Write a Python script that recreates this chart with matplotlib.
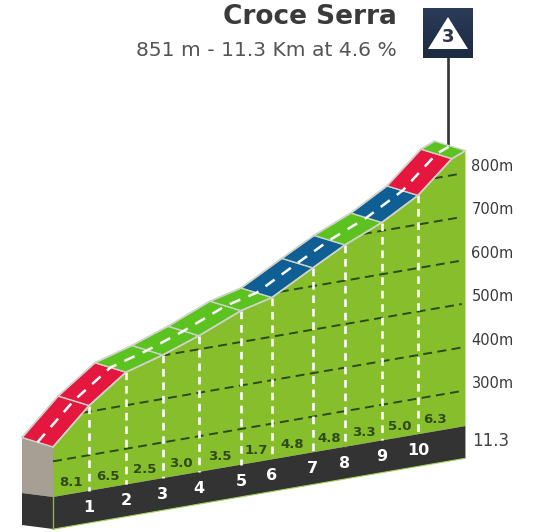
import numpy as np
import matplotlib
matplotlib.use('Agg')
import matplotlib.pyplot as plt
from matplotlib.colors import LinearSegmentedColormap
from matplotlib.transforms import Affine2D

# profile points
km = [0, 0.99, 2.0, 3.01, 4.0, 5.15, 6.0, 7.12, 8.0, 9.01, 10.0, 10.93, 11.3]
elev = [333, 414, 476, 501, 531, 572, 590, 642, 682, 719, 767, 838, 851]
grades = ['8.1', '6.5', '2.5', '3.0', '3.5', '1.7', '4.8', '4.8', '3.3', '5.0', '6.3']
km_labels = ['1', '2', '3', '4', '5', '6', '7', '8', '9', '10']
grid_levels = [300, 400, 500, 600, 700, 800]
road_colors = ['#e5173f', '#e5173f', '#5cc21f', '#5cc21f', '#5cc21f', '#5cc21f', '#0f5f94',
               '#0f5f94', '#5cc21f', '#0f5f94', '#e5173f', '#5cc21f']

base_elev = 218
band_elev = 144
end_km = km[-1]
edge = '#cfd3ca'

fig = plt.figure(figsize=(5.53, 5.32), dpi=100)
ax = fig.add_axes([0, 0, 1, 1])
ax.axis('off')

# km/elevation to pixels, the base line rises to the right
front = Affine2D.from_values(36.5, -6.278, 0, -0.435, 53, 591.83)
back = front + Affine2D().translate(-31, -9.5)
mid = front + Affine2D().translate(-15.5, -4.75)
to_front = front + ax.transData
to_back = back + ax.transData
to_mid = mid + ax.transData

km_arr = np.array(km)
elev_arr = np.array(elev)

# left side of the block
ax.fill([53, 22, 22, 53], [447, 438, 493, 497], color='#a89f94', lw=0, zorder=1)
ax.fill([53, 22, 22, 53], [497, 493, 525, 529], color='#333333', lw=0, zorder=1)
ax.plot([53, 53], [497, 529], color='#86bf2b', lw=1, zorder=3)

# green body and dark band
ax.fill(list(km) + [end_km, 0], list(elev) + [base_elev, base_elev], color='#86bf2b', lw=0,
        transform=to_front, zorder=1)
ax.fill([0, end_km, end_km, 0], [base_elev, base_elev, band_elev, band_elev], color='#333333',
        lw=0, transform=to_front, zorder=2)
ax.plot([0, end_km], [band_elev, band_elev], color='#a5cf5a', lw=0.8, transform=to_front, zorder=2)

# altitude grid
for level in grid_levels:
    start = np.interp(level, elev_arr, km_arr) if level > elev[0] else 0
    ax.plot([start, 11.2], [level, level], color='#2c4a1a', lw=1.4, dashes=(4.6, 2.8),
            transform=to_front, zorder=3)

# white km lines
for k, e in zip(km[1:11], elev[1:11]):
    ax.plot([k, k], [e, base_elev], color='white', lw=1.9, dashes=(2.9, 2.2),
            transform=to_front, zorder=4)

# road segments
for i, c in enumerate(road_colors):
    p1 = front.transform([[km[i], elev[i]], [km[i + 1], elev[i + 1]]])
    p2 = back.transform([[km[i + 1], elev[i + 1]], [km[i], elev[i]]])
    poly = np.vstack([p1, p2])
    ax.fill(poly[:, 0], poly[:, 1], facecolor=c, edgecolor=edge, lw=1.0, zorder=5)

ax.plot(km, elev, color=edge, lw=1.2, transform=to_front, zorder=5)
ax.plot(km, elev, color=edge, lw=1.2, transform=to_back, zorder=5)
ax.plot(km, elev, color='white', lw=1.8, dashes=(4.5, 3.5), transform=to_mid, zorder=6)

# text on the block
font = 'DejaVu Sans'
for i, g in enumerate(grades):
    ax.text((km[i] + km[i + 1]) / 2, base_elev + 26, g, color='#2f4a1a', fontsize=9.5,
            fontweight='bold', family=font, ha='center', va='center', transform=to_front, zorder=7)
for k, lab in zip(km[1:11], km_labels):
    ax.text(k, base_elev - 38, lab, color='white', fontsize=11.5, fontweight='bold', family=font,
            ha='center', va='center', transform=to_front, zorder=7)

# altitude labels on the right, display y points up here
for level in grid_levels:
    ax.text(11.3, level, f'{level}m', color='#3a3a3a', fontsize=10.5, family=font, ha='left',
            va='center', transform=to_front + Affine2D().translate(6, 6.5), zorder=7)
ax.text(472, 441, '11.3', color='#444444', fontsize=12, family=font, ha='left', va='center', zorder=7)

# title
ax.text(397, 17, 'Croce Serra', color='#3a3a3a', fontsize=19, fontweight='bold', family=font,
        ha='right', va='center')
ax.text(397, 50, '851 m - 11.3 Km at 4.6 %', color='#555555', fontsize=14.6, family=font,
        ha='right', va='center')

# climb badge on its pole
ax.plot([448, 448], [58, 146], color='#333333', lw=1.9, zorder=4)
ax.imshow(np.linspace(0, 1, 50).reshape(-1, 1), extent=(423, 473, 58, 8), aspect='auto',
          cmap=LinearSegmentedColormap.from_list('badge', ['#2b3c58', '#1c2a42']), zorder=8)
ax.fill([448, 428, 468], [17, 49, 49], color='white', lw=0, zorder=9)
ax.text(448, 37, '3', color='#2b3648', fontsize=13, fontweight='bold', family=font, ha='center',
        va='center', zorder=10)

ax.set_xlim(0, 553)
ax.set_ylim(532, 0)
fig.savefig('out.png', dpi=100)
